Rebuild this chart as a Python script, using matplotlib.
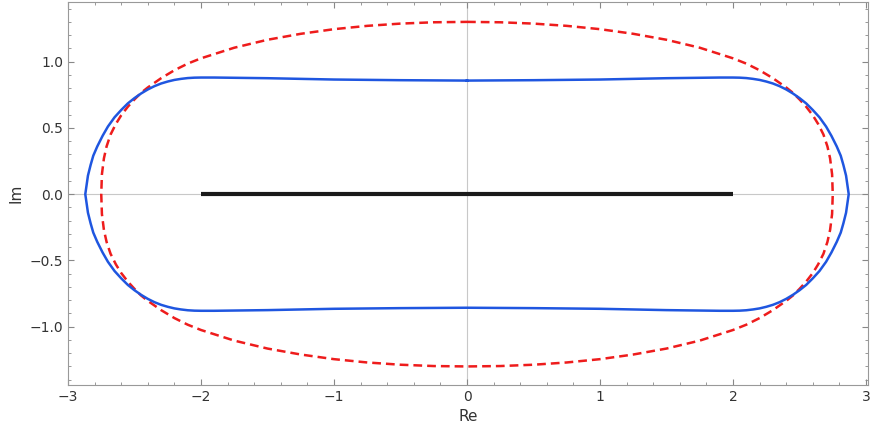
import numpy as np
import matplotlib.pyplot as plt

# upper-right quadrant (curves are symmetric)
red_x = [0, 0.25, 0.5, 0.75, 1.0, 1.25, 1.5, 1.75, 2.0, 2.1, 2.2, 2.3, 2.4, 2.45, 2.5, 2.55, 2.6, 2.64, 2.68, 2.71, 2.73, 2.745, 2.75]
red_y = [1.30, 1.297, 1.287, 1.27, 1.245, 1.21, 1.165, 1.105, 1.025, 0.985, 0.935, 0.875, 0.805, 0.765, 0.715, 0.66, 0.595, 0.53, 0.45, 0.36, 0.27, 0.15, 0.0]
blue_x = [0, 0.5, 1.0, 1.5, 1.9, 2.0, 2.05, 2.1, 2.15, 2.2, 2.25, 2.3, 2.35, 2.4, 2.45, 2.5, 2.55, 2.6, 2.65, 2.7, 2.74, 2.78, 2.81, 2.83, 2.85, 2.86, 2.87]
blue_y = [0.857, 0.86, 0.865, 0.875, 0.88, 0.88, 0.879, 0.876, 0.87, 0.862, 0.85, 0.835, 0.815, 0.79, 0.76, 0.725, 0.685, 0.635, 0.58, 0.51, 0.44, 0.36, 0.29, 0.22, 0.14, 0.07, 0.0]
seg_x = [-2, 2]
seg_y = [0, 0]


def closed(xs, ys):
    xs, ys = np.array(xs), np.array(ys)
    X = np.concatenate([xs, xs[::-1][1:], -xs[1:], -xs[::-1][1:]])
    Y = np.concatenate([ys, -ys[::-1][1:], -ys[1:], ys[::-1][1:]])
    return X, Y


fig = plt.figure(figsize=(8.72, 4.44), dpi=100)
ax = fig.add_axes([68 / 872, 1 - 385 / 444, 800 / 872, 383 / 444])
ax.axhline(0, color='#c8c8c8', lw=0.8, zorder=0)
ax.axvline(0, color='#c8c8c8', lw=0.8, zorder=0)

rx, ry = closed(red_x, red_y)
ax.plot(rx, ry, color='#ee1c1c', lw=1.8, ls=(0, (3.5, 2)))
bx, by = closed(blue_x, blue_y)
ax.plot(bx, by, color='#1f56e0', lw=1.8)
ax.plot(seg_x, seg_y, color='#1a1a1a', lw=3, solid_capstyle='butt')

ax.set_xlim(-3, 3.015)
ax.set_ylim(-1.44, 1.45)
ax.set_xticks([-3, -2, -1, 0, 1, 2, 3])
ax.set_yticks([-1.0, -0.5, 0.0, 0.5, 1.0])
ax.set_xticklabels(['\u22123', '\u22122', '\u22121', '0', '1', '2', '3'])
ax.set_yticklabels(['\u22121.0', '\u22120.5', '0.0', '0.5', '1.0'])
ax.set_xticks(np.arange(-3, 3.01, 0.2), minor=True)
ax.set_yticks(np.arange(-1.4, 1.41, 0.1), minor=True)
ax.tick_params(which='both', direction='in', top=True, right=True, color='#888888', labelsize=10, labelcolor='#333333')
ax.tick_params(which='major', length=4)
ax.tick_params(which='minor', length=2)
for s in ax.spines.values():
    s.set_color('#999999')
ax.set_xlabel('Re', fontsize=11, color='#333333')
ax.set_ylabel('Im', fontsize=11, color='#333333')

fig.savefig('out.png')
